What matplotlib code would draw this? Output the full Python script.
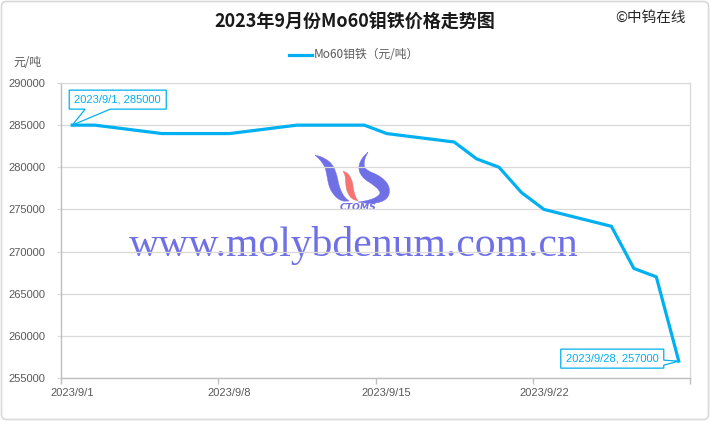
import numpy as np
import matplotlib
matplotlib.use('Agg')
import matplotlib.pyplot as plt
from matplotlib.patches import Polygon, FancyBboxPatch
from matplotlib.transforms import ScaledTranslation
import matplotlib.lines as mlines

plt.rcParams['font.family'] = ['Noto Sans CJK SC', 'DejaVu Sans']

# ---- data ----
days = [1, 2, 5, 8, 11, 14, 15, 18, 19, 20, 21, 22, 25, 26, 27, 28]
prices = [285000, 285000, 284000, 284000, 285000, 285000, 284000, 283000,
          281000, 280000, 277000, 275000, 273000, 268000, 267000, 257000]
tick_days = [1, 8, 15, 22]
tick_labels = ['2023/9/1', '2023/9/8', '2023/9/15', '2023/9/22']
y_ticks = [255000, 260000, 265000, 270000, 275000, 280000, 285000, 290000]
title = '2023年9月份Mo60钼铁价格走势图'
series_name = 'Mo60钼铁（元/吨）'
callouts = [(0, '2023/9/1, 285000'), (len(days) - 1, '2023/9/28, 257000')]

LINE = '#00b0f0'
GRAY = '#595959'
W, H = 710, 421

fig = plt.figure(figsize=(W / 100, H / 100), dpi=100)
bg = fig.add_axes([0, 0, 1, 1], zorder=0)
bg.set_xlim(0, W)
bg.set_ylim(H, 0)
bg.axis('off')

bg.add_patch(FancyBboxPatch((1.5, 1.5), W - 3, H - 3,
                            boxstyle='round,pad=0,rounding_size=5',
                            fc='white', ec='#d9d9d9', lw=1.2))


# ---- watermark logo (decorative) ----
def chaikin(pts, iters=3):
    pts = np.asarray(pts, float)
    for _ in range(iters):
        new = [pts[0]]
        for i in range(len(pts) - 1):
            p, q = pts[i], pts[i + 1]
            new.append(0.75 * p + 0.25 * q)
            new.append(0.25 * p + 0.75 * q)
        new.append(pts[-1])
        pts = np.array(new)
    return pts


def ribbon(spec, color):
    S = chaikin(spec, 3)
    P = S[:, :2]
    w = S[:, 2]
    n = len(P)
    left, right = [], []
    for i in range(n):
        a = P[max(i - 1, 0)]
        b = P[min(i + 1, n - 1)]
        t = b - a
        t = t / np.hypot(*t)
        nrm = np.array([-t[1], t[0]])
        left.append(P[i] + nrm * w[i])
        right.append(P[i] - nrm * w[i])
    poly = np.vstack([left, right[::-1]])
    bg.add_patch(Polygon(poly, closed=True, fc=color, ec=color, lw=0.3, zorder=1))


LOGO_B = (0.44, 0.44, 0.9)
LOGO_R = (0.96, 0.45, 0.45)
ribbon([(315, 155, 0), (322, 159, 2), (329, 166, 4), (332, 176, 5), (334, 186, 5),
        (338, 194, 4), (343, 199, 2.5), (349, 201, 0)], LOGO_B)
ribbon([(343, 171, 0), (347, 175, 2), (349, 182, 3.5), (350, 190, 3.5), (353, 197, 2.5),
        (358, 201, 0)], LOGO_R)
ribbon([(368, 152, 0), (363, 159, 1.5), (361, 168, 3), (366, 175, 4.5), (376, 180, 5.5),
        (384, 187, 5.5), (385, 195, 4.5), (378, 200, 3), (368, 202, 1.5), (358, 202, 0)],
       LOGO_B)
bg.text(358, 207.5, 'CTOMS', fontsize=6.7, fontweight='bold', fontstyle='italic',
        color=LOGO_B, ha='center', va='center', family=['DejaVu Sans'], zorder=1)

bg.text(354, 256, 'www.molybdenum.com.cn', fontsize=30, color=(0.44, 0.44, 0.9),
        family=['Liberation Serif', 'DejaVu Serif'], ha='center', va='baseline', zorder=1)

# ---- titles, legend ----
bg.text(355, 22, title, fontsize=13, fontweight='bold', color='#1a1a1a',
        ha='center', va='center')
bg.text(650, 18, '©中钨在线', fontsize=10.5, color='#262626', ha='center', va='center')
bg.add_line(mlines.Line2D([289, 312], [55, 55], color=LINE, lw=2.3))
bg.text(314, 55, series_name, fontsize=8.5, color=GRAY, ha='left', va='center')
bg.text(27, 62, '元/吨', fontsize=8.5, color=GRAY, ha='center', va='center')

# ---- main axes ----
ax = fig.add_axes([61 / W, 1 - 378 / H, (690 - 61) / W, (378 - 83) / H], zorder=2)
ax.set_facecolor('none')
ax.plot(days, prices, color=LINE, lw=2.3, solid_joinstyle='round', zorder=3)
ax.set_xlim(0.5, 28.5)
ax.set_ylim(255000, 290000)
ax.set_yticks(y_ticks)
ax.set_yticklabels([str(v) for v in y_ticks])
ax.set_xticks(tick_days)
ax.set_xticklabels(tick_labels)
ax.set_xticks([0.5, 7.5, 14.5, 21.5, 28.5], minor=True)
ax.yaxis.grid(True, color='#d9d9d9', lw=0.9, zorder=0)
ax.set_axisbelow(True)
for s in ['left', 'bottom']:
    ax.spines[s].set_color('#bfbfbf')
    ax.spines[s].set_linewidth(1.0)
for s in ['top', 'right']:
    ax.spines[s].set_color('#d9d9d9')
    ax.spines[s].set_linewidth(0.9)
ax.tick_params(axis='x', which='major', length=0, pad=7, labelsize=8, labelcolor=GRAY)
ax.tick_params(axis='x', which='minor', length=4, color='#bfbfbf', width=1)
ax.tick_params(axis='y', length=3, color='#d9d9d9', pad=8, labelsize=8, labelcolor=GRAY)
for lab in ax.get_xticklabels() + ax.get_yticklabels():
    lab.set_family(['Liberation Sans', 'DejaVu Sans'])

# ---- callouts ----
shapes = [
    dict(poly=[(-3, 35), (94, 35), (94, 16), (38, 16), (0, 0), (13, 16), (-3, 16)],
         center=(45.5, 25.5)),
    dict(poly=[(-118, 12), (-15, 12), (-15, 1), (0, 0), (-15, -4), (-15, -7), (-118, -7)],
         center=(-66.5, 2.5)),
]
for (idx, txt), shp in zip(callouts, shapes):
    tr = fig.dpi_scale_trans + ScaledTranslation(days[idx], prices[idx], ax.transData)
    poly = np.array(shp['poly'], float) / 100.0
    ax.add_patch(Polygon(poly, closed=True, fc='white', ec=LINE, lw=0.9,
                         transform=tr, zorder=5, clip_on=False))
    cx, cy = shp['center']
    ax.text(cx / 100, cy / 100, txt, transform=tr, fontsize=8, color=LINE,
            ha='center', va='center', zorder=6, family=['Liberation Sans', 'DejaVu Sans'])

fig.savefig('out.png', dpi=100)
